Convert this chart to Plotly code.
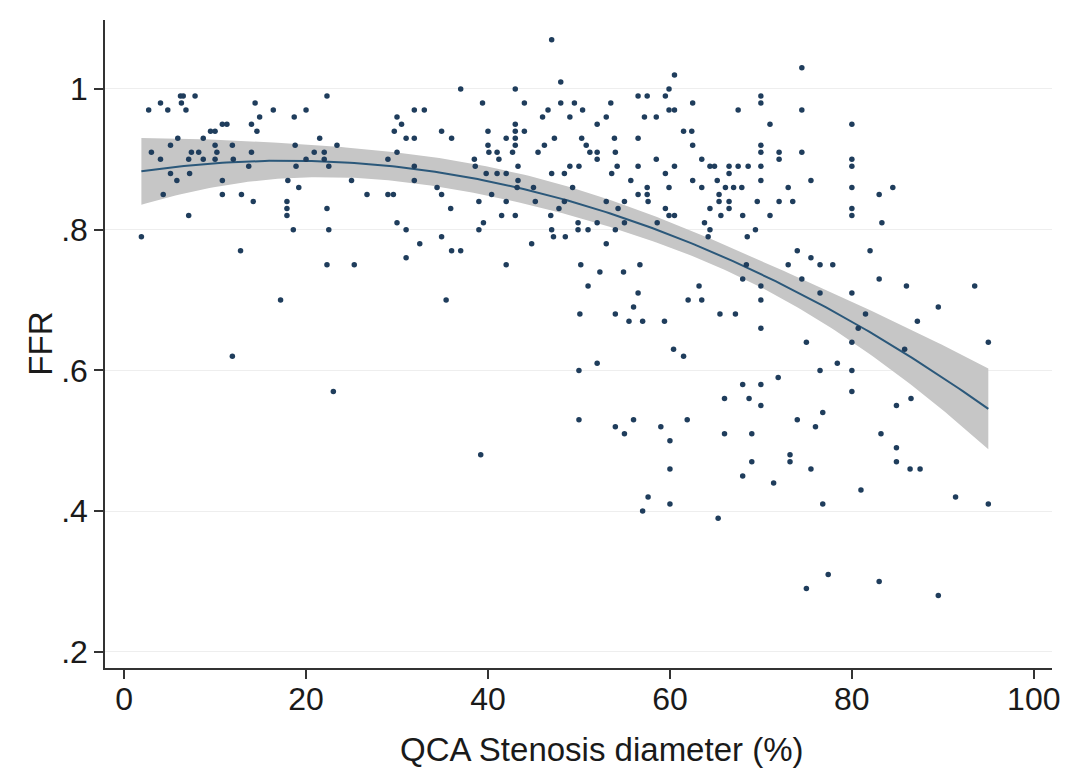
import numpy as np
import plotly.graph_objects as go

# QCA stenosis diameter (%) and FFR
stenosis = [
 2.7,4.0,4.8,6.2,6.5,6.3,6.8,7.8,5.9,5.1,3.0,4.0,5.1,5.8,4.3,7.1,7.1,7.4,7.2,8.2,8.7,8.7,9.5,10.0,10.0,10.2,10.0,
 10.8,11.3,11.9,12.0,10.8,10.8,12.9,14.2,13.7,14.0,14.0,14.6,14.9,14.4,16.4,18.7,20.0,22.3,21.5,23.4,18.8,18.9,
 20.0,20.9,22.0,22.0,22.5,18.0,19.2,17.9,17.9,17.9,18.6,22.3,22.5,1.9,
 12.8,22.3,17.2,11.9,23.0,
 47.0,48.0,37.0,43.0,39.4,44.0,48.0,49.5,50.4,31.9,33.0,30.0,30.5,29.7,31.0,31.9,34.9,36.0,30.0,29.0,31.9,31.9,
 25.0,26.7,29.0,29.6,34.4,34.9,35.9,30.0,31.0,34.9,40.0,40.0,40.1,41.0,41.2,38.5,38.6,42.0,43.0,43.0,43.0,43.0,
 44.0,42.7,43.3,39.8,41.0,42.0,43.3,40.4,39.0,42.0,43.2,45.0,45.2,41.5,43.0,39.5,39.0,46.6,46.0,49.0,47.3,50.3,
 46.2,45.5,49.0,50.0,47.0,48.4,49.3,48.4,47.8,46.9,49.9,47.0,49.9,47.2,48.5,
 32.5,31.0,36.0,37.0,25.3,42.0,44.8,50.2,35.4,50.1,50.0,50.0,39.2,
 74.5,60.5,59.9,56.5,57.5,59.5,53.5,62.5,70.0,70.0,59.9,60.5,67.5,74.5,53.0,57.2,58.5,52.0,71.0,61.5,62.4,53.9,
 56.5,50.8,51.2,62.5,70.0,70.0,52.0,52.0,54.0,72.0,72.0,74.5,58.5,63.5,54.2,56.5,60.5,64.4,64.9,66.5,67.5,68.6,
 70.0,53.6,59.5,66.5,55.7,62.5,65.2,70.0,75.5,57.5,59.9,63.5,66.1,67.0,67.9,73.0,56.5,57.5,65.4,53.0,55.0,57.6,
 65.4,66.5,69.6,72.0,73.5,54.3,59.5,64.4,66.5,59.9,60.5,65.6,68.0,71.0,52.0,55.0,58.6,63.8,51.0,54.0,64.4,69.4,
 64.2,68.5,
 53.0,52.3,54.9,56.7,51.0,56.5,56.0,54.0,55.5,57.0,59.4,63.2,62.0,63.5,65.5,67.2,68.0,68.4,70.0,70.0,70.0,74.0,
 75.5,73.0,76.5,74.5,76.5,75.0,60.4,61.5,52.0,76.5,71.9,68.0,70.0,66.0,68.7,70.0,76.8,54.0,55.0,56.0,59.0,60.0,
 61.9,66.0,69.0,74.0,76.0,73.2,69.0,
 60.0,57.6,57.0,60.0,65.3,68.0,71.4,73.2,75.5,76.8,75.0,
 82.0,77.9,83.0,86.0,93.5,80.0,89.5,81.5,87.2,80.0,95.0,80.7,85.8,78.4,80.0,80.0,86.5,84.9,83.2,84.9,84.9,
 86.4,87.5,81.0,91.4,95.0,77.4,83.0,89.5,
 80.0,80.0,80.0,80.0,83.0,84.5,80.0,80.0,83.3,
]
ffr = [
 0.97,0.98,0.97,0.99,0.99,0.98,0.97,0.99,0.93,0.92,0.91,0.90,0.88,0.87,0.85,0.82,0.90,0.91,0.88,0.91,0.93,0.90,0.94,0.94,0.92,0.91,0.90,
 0.95,0.95,0.92,0.90,0.87,0.85,0.85,0.84,0.89,0.91,0.95,0.94,0.96,0.98,0.97,0.96,0.97,0.99,0.93,0.92,0.92,0.89,
 0.90,0.91,0.91,0.90,0.89,0.87,0.86,0.84,0.83,0.82,0.80,0.83,0.80,0.79,
 0.77,0.75,0.70,0.62,0.57,
 1.07,1.01,1.00,1.00,0.98,0.98,0.98,0.98,0.97,0.97,0.97,0.96,0.95,0.94,0.93,0.93,0.94,0.93,0.91,0.90,0.89,0.87,
 0.87,0.85,0.85,0.85,0.86,0.85,0.83,0.81,0.80,0.79,0.94,0.92,0.91,0.91,0.90,0.90,0.89,0.93,0.95,0.94,0.93,0.92,
 0.94,0.91,0.89,0.88,0.88,0.88,0.87,0.85,0.84,0.84,0.86,0.86,0.84,0.82,0.82,0.81,0.80,0.97,0.96,0.96,0.93,0.93,
 0.92,0.91,0.89,0.89,0.88,0.88,0.86,0.84,0.83,0.82,0.81,0.80,0.80,0.79,0.79,
 0.78,0.76,0.77,0.77,0.75,0.75,0.78,0.75,0.70,0.68,0.60,0.53,0.48,
 1.03,1.02,1.00,0.99,0.99,0.99,0.98,0.98,0.99,0.98,0.97,0.97,0.97,0.97,0.96,0.96,0.96,0.95,0.95,0.94,0.94,0.93,
 0.93,0.92,0.91,0.92,0.92,0.91,0.91,0.90,0.91,0.91,0.90,0.91,0.90,0.90,0.89,0.89,0.89,0.89,0.89,0.89,0.89,0.89,
 0.89,0.88,0.88,0.88,0.87,0.87,0.87,0.87,0.87,0.86,0.86,0.86,0.86,0.86,0.86,0.86,0.85,0.85,0.85,0.84,0.84,0.84,
 0.84,0.84,0.84,0.84,0.84,0.83,0.83,0.83,0.83,0.82,0.82,0.82,0.82,0.82,0.81,0.81,0.81,0.81,0.80,0.80,0.80,0.80,
 0.79,0.79,
 0.78,0.74,0.74,0.75,0.72,0.71,0.69,0.68,0.67,0.67,0.67,0.72,0.70,0.70,0.68,0.68,0.73,0.75,0.72,0.70,0.66,0.77,
 0.76,0.75,0.75,0.73,0.71,0.64,0.63,0.62,0.61,0.60,0.59,0.58,0.58,0.56,0.56,0.55,0.54,0.52,0.51,0.53,0.52,0.50,
 0.53,0.51,0.51,0.53,0.52,0.48,0.47,
 0.46,0.42,0.40,0.41,0.39,0.45,0.44,0.47,0.46,0.41,0.29,
 0.77,0.75,0.73,0.72,0.72,0.71,0.69,0.68,0.67,0.64,0.64,0.66,0.63,0.61,0.60,0.57,0.56,0.55,0.51,0.49,0.47,
 0.46,0.46,0.43,0.42,0.41,0.31,0.30,0.28,
 0.95,0.90,0.89,0.86,0.85,0.86,0.83,0.82,0.81,
]

x_ticks = [0, 20, 40, 60, 80, 100]
y_ticks = [0.2, 0.4, 0.6, 0.8, 1.0]
y_tick_text = [".2", ".4", ".6", ".8", "1"]
x_title = "QCA Stenosis diameter (%)"
y_title = "FFR"

x = np.array(stenosis)
y = np.array(ffr)

# quadratic fit with 95% CI of the prediction mean (as Stata qfitci)
X = np.column_stack([np.ones_like(x), x, x**2])
beta, *_ = np.linalg.lstsq(X, y, rcond=None)
resid = y - X @ beta
n = len(x)
s2 = resid @ resid / (n - 3)
cov = s2 * np.linalg.inv(X.T @ X)
xg = np.linspace(x.min(), x.max(), 200)
G = np.column_stack([np.ones_like(xg), xg, xg**2])
yg = G @ beta
se = np.sqrt(np.einsum("ij,jk,ik->i", G, cov, G))
t = 1.967
lo, hi = yg - t * se, yg + t * se

fig = go.Figure()
fig.add_trace(go.Scatter(
    x=np.concatenate([xg, xg[::-1]]), y=np.concatenate([hi, lo[::-1]]),
    fill="toself", fillcolor="#c6c6c6", line=dict(width=0), mode="lines",
    hoverinfo="skip", showlegend=False))
fig.add_trace(go.Scatter(x=xg, y=yg, mode="lines",
    line=dict(color="#2b587a", width=2), showlegend=False))
fig.add_trace(go.Scatter(x=x, y=y, mode="markers",
    marker=dict(size=5.5, color="#1f3d5c"), showlegend=False))

font = "Liberation Sans, Arial, sans-serif"
# page body has an 8px margin, so the figure is sized/offset to fit the window
fig.update_layout(
    width=1061, height=766,
    margin=dict(l=97, r=17, t=12, b=106),
    paper_bgcolor="white", plot_bgcolor="white",
    font=dict(family=font, color="#1a1a1a"),
    showlegend=False,
)
fig.update_xaxes(range=[-2.1, 102], tickvals=x_ticks, ticks="outside", ticklen=9,
    tickwidth=1.5, tickcolor="#333333", showline=True, linecolor="#333333", linewidth=1.5,
    showgrid=False, zeroline=False, tickfont=dict(size=32), automargin=False,
    ticklabelstandoff=-7)
fig.update_yaxes(range=[0.177, 1.098], tickvals=y_ticks, ticktext=y_tick_text, ticks="outside",
    ticklen=9, tickwidth=1.5, tickcolor="#333333", showline=True, linecolor="#333333", linewidth=1.5,
    showgrid=True, gridcolor="#eeeeee", gridwidth=1, zeroline=False, tickfont=dict(size=32),
    automargin=False)

fig.add_annotation(text=x_title, xref="paper", yref="paper", x=0.524, y=-0.1265,
    xanchor="center", yanchor="middle", showarrow=False, font=dict(size=33))
fig.add_annotation(text=y_title, xref="paper", yref="paper", x=-0.069, y=0.5,
    xanchor="center", yanchor="middle", textangle=-90, showarrow=False, font=dict(size=33))

fig.write_html("out.html")
